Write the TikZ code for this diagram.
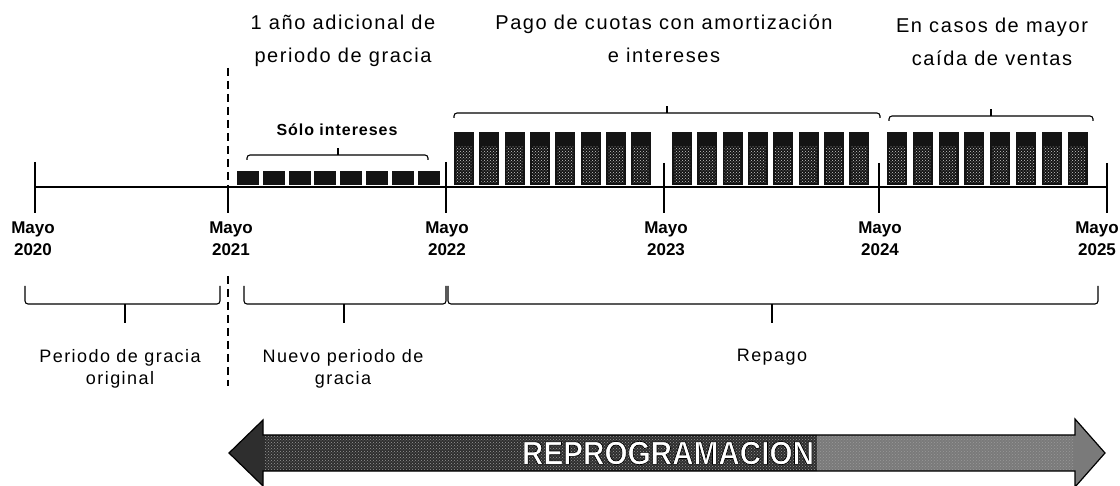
\documentclass[tikz,border=0pt]{standalone}
\usepackage{fontspec}
\setmainfont{Liberation Sans}
\newfontfamily\spacedfont[LetterSpace=8]{Liberation Sans}
\newfontfamily\spacedbfont[LetterSpace=6]{Liberation Sans Bold}
\usetikzlibrary{patterns}
\newcommand\mytallbox[1]{%
  \fill[black!92] (#1,132) rectangle ++(20,53);
  \fill[pattern=crosshatch dots, pattern color=white!80!black] (#1+2,147) rectangle (#1+18,183);
}
\newcommand\mydownbrace[3]{%
  \draw[bracestyle] (#1,286) -- (#1,304) -- (#2,304) -- (#2,286);
  \draw[bracestyle] (#3,304) -- (#3,323);
}
\newcommand\myupbrace[5]{%
  \draw[bracestyle] (#1,#4+5) -- (#1,#4) -- (#2,#4) -- (#2,#4+5);
  \draw[bracestyle] (#3,#4) -- (#3,#5);
}
\newcommand\outlinedtext[1]{\special{pdf:literal direct 2 Tr 0.7 w 0 G}#1\special{pdf:literal direct 0 Tr}}
\begin{document}
\begin{tikzpicture}[x=1pt,y=-1pt,
  toptext/.style={font=\spacedfont\fontsize{20}{33}\selectfont, align=center, anchor=north, inner sep=0pt},
  bottext/.style={font=\spacedfont\fontsize{18}{22}\selectfont, align=center, anchor=north, inner sep=0pt},
  datelbl/.style={font=\bfseries\fontsize{17}{22}\selectfont, align=center, anchor=north, inner sep=0pt},
  ticklne/.style={line width=1.8pt},
  bracestyle/.style={line width=1.1pt, rounded corners=3pt},
  dashline/.style={line width=1.5pt, dash pattern=on 8pt off 5pt},
  reprotext/.style={font=\bfseries\fontsize{33}{33}\selectfont, inner sep=0pt},
]
\useasboundingbox (0,0) rectangle (1120,486);

% top texts
\node[toptext] (t1) at (343,15) {1 año adicional de\\periodo de gracia};
\node[toptext] (t2) at (664,15) {Pago de cuotas con amortización\\e intereses};
\node[toptext] (t3) at (992,18) {En casos de mayor\\caída de ventas};
\node[font=\spacedbfont\fontsize{16}{20}\selectfont, anchor=north, inner sep=0pt] (solo) at (337,124) {Sólo intereses};

% dashed line (interrupted by the 2021 label)
\draw[dashline] (228,68) -- (228,187);
\draw[dashline] (228,276) -- (228,386);

% timeline
\draw[line width=1.6pt] (35,187) -- (1107,187);
\foreach \x/\t in {35/162,446/162,664/163,879/163,1107/163} \draw[ticklne] (\x,\t) -- (\x,213);
\draw[ticklne] (228,187) -- (228,213);

% small boxes
\foreach \i in {0,...,7} \fill[black!92] (237+\i*25.8,171) rectangle ++(22,14);

% tall boxes
\foreach \i in {0,...,7} {\mytallbox{454+\i*25.3}}
\foreach \i in {0,...,7} {\mytallbox{672+\i*25.3}}
\foreach \i in {0,...,7} {\mytallbox{887+\i*25.8}}

% top braces
\myupbrace{247}{428}{338}{155}{148}
\myupbrace{454}{880}{667}{113}{106}
\myupbrace{889}{1093}{991}{116}{109}

% date labels
\node[datelbl] (d20) at (33,222) {Mayo\\2020};
\node[datelbl] (d21) at (231,222) {Mayo\\2021};
\node[datelbl] (d22) at (447,222) {Mayo\\2022};
\node[datelbl] (d23) at (666,222) {Mayo\\2023};
\node[datelbl] (d24) at (880,222) {Mayo\\2024};
\node[datelbl] (d25) at (1097,222) {Mayo\\2025};

% bottom braces
\mydownbrace{25}{220}{125}
\mydownbrace{244}{446}{344}
\mydownbrace{448}{1098}{772}

% bottom labels
\node[bottext] (b1) at (120,349) {Periodo de gracia\\original};
\node[bottext] (b2) at (343,349) {Nuevo periodo de\\gracia};
\node[bottext] (b3) at (772,349) {Repago};

% big arrow
\fill[black!82] (229,453) -- (263,420) -- (263,435) -- (817,435) -- (817,471) -- (263,471) -- (263,486) -- cycle;
\fill[black!52] (817,435) -- (1075,435) -- (1075,419) -- (1105,453) -- (1075,487) -- (1075,471) -- (817,471) -- cycle;
\fill[pattern=crosshatch dots, pattern color=white!60!black] (265,437) rectangle (1073,469);
\draw[line width=1.2pt, line join=miter] (229,453) -- (263,420) -- (263,435) -- (1075,435) -- (1075,419) -- (1105,453) -- (1075,487) -- (1075,471) -- (263,471) -- (263,486) -- cycle;

\node[reprotext, text=white] (rp) at (668,453) {\scalebox{0.9}[1]{\outlinedtext{REPROGRAMACION}}};
\end{tikzpicture}
\end{document}
